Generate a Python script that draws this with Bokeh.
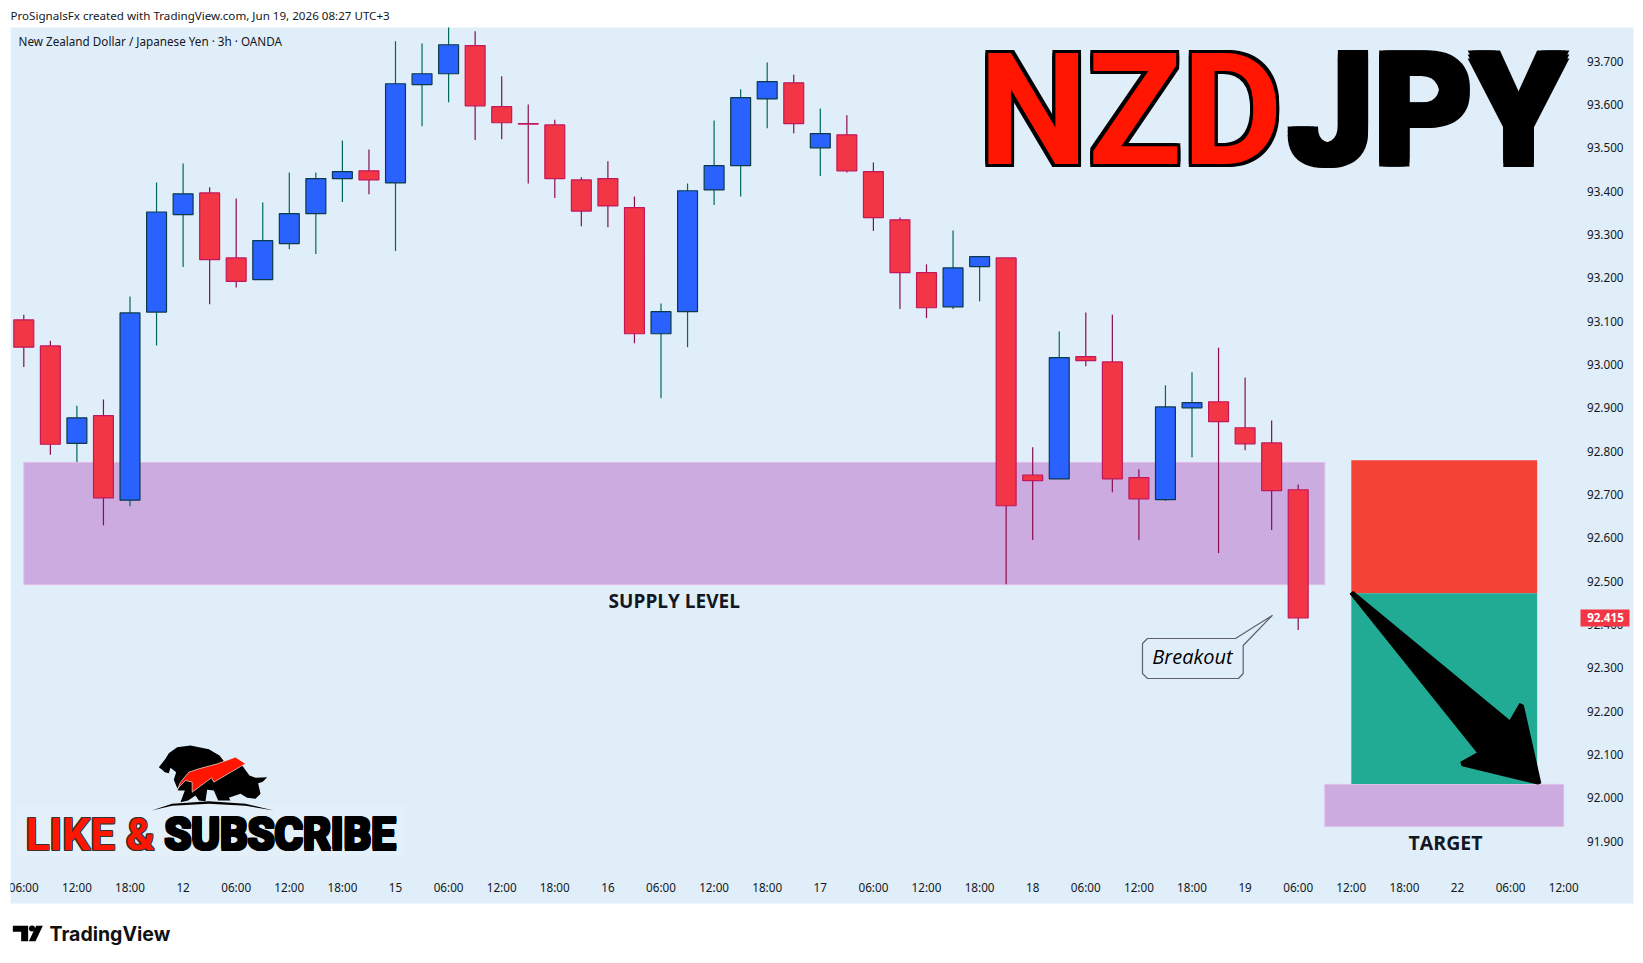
from bokeh.plotting import figure
from bokeh.models import FixedTicker, NumeralTickFormatter
from bokeh.core.properties import value
from bokeh.embed import file_html
from bokeh.resources import INLINE
import numpy as np

# OHLC of the 3h candles
opens = [93.103, 93.043, 92.818, 92.882, 92.687, 93.121, 93.346, 93.396, 93.246, 93.196,
         93.279, 93.348, 93.429, 93.447, 93.419, 93.646, 93.671, 93.736, 93.595, 93.556,
         93.553, 93.426, 93.429, 93.362, 93.071, 93.122, 93.403, 93.459, 93.613, 93.650,
         93.500, 93.530, 93.445, 93.334, 93.212, 93.133, 93.226, 93.246, 92.745, 92.736,
         93.018, 93.006, 92.739, 92.688, 92.900, 92.914, 92.854, 92.819, 92.711]
highs = [93.115, 93.055, 92.905, 92.919, 93.157, 93.420, 93.464, 93.409, 93.383, 93.374,
         93.443, 93.443, 93.517, 93.496, 93.746, 93.741, 93.778, 93.769, 93.665, 93.600,
         93.565, 93.432, 93.469, 93.388, 93.141, 93.418, 93.563, 93.635, 93.697, 93.669,
         93.591, 93.575, 93.466, 93.339, 93.231, 93.309, 93.249, 93.246, 92.809, 93.076,
         93.120, 93.115, 92.758, 92.952, 92.982, 93.039, 92.970, 92.871, 92.723]
lows = [92.994, 92.792, 92.775, 92.629, 92.673, 93.044, 93.225, 93.139, 93.178, 93.196,
        93.266, 93.255, 93.375, 93.393, 93.262, 93.550, 93.605, 93.518, 93.520, 93.418,
        93.384, 93.319, 93.317, 93.049, 92.922, 93.040, 93.368, 93.388, 93.545, 93.534,
        93.435, 93.443, 93.308, 93.128, 93.107, 93.128, 93.146, 92.493, 92.595, 92.736,
        92.996, 92.705, 92.595, 92.685, 92.786, 92.565, 92.802, 92.618, 92.387]
closes = [93.040, 92.816, 92.877, 92.692, 93.119, 93.352, 93.394, 93.242, 93.192, 93.286,
          93.348, 93.429, 93.445, 93.426, 93.648, 93.671, 93.738, 93.597, 93.558, 93.555,
          93.429, 93.354, 93.366, 93.071, 93.122, 93.401, 93.459, 93.616, 93.653, 93.556,
          93.533, 93.447, 93.339, 93.212, 93.131, 93.223, 93.249, 92.674, 92.732, 93.016,
          93.009, 92.736, 92.690, 92.902, 92.912, 92.868, 92.817, 92.709, 92.415]

tick_labels = ["06:00", "12:00", "18:00", "12", "06:00", "12:00", "18:00", "15",
               "06:00", "12:00", "18:00", "16", "06:00", "12:00", "18:00", "17",
               "06:00", "12:00", "18:00", "18", "06:00", "12:00", "18:00", "19",
               "06:00", "12:00", "18:00", "22", "06:00", "12:00"]
price_ticks = [91.9, 92.0, 92.1, 92.2, 92.3, 92.4, 92.5, 92.6, 92.7, 92.8, 92.9,
               93.0, 93.1, 93.2, 93.3, 93.4, 93.5, 93.6, 93.7]

# zones drawn on the chart: bar from, bar to, price top, price bottom
supply_zone = (0, 49, 92.774, 92.492)
target_zone = (49, 58, 92.031, 91.934)
stop_zone = (50, 57, 92.779, 92.472)
profit_zone = (50, 57, 92.472, 92.032)
last_price = 92.415

PANEL = "#E0EEF9"
TEXT = "#131722"


# page pixels -> chart units, only for the decorations (logos, callout, arrow)
def bx(px):
    return (np.asarray(px, dtype=float) - 23.3) / 26.55


def py(px):
    return 93.7 - (np.asarray(px, dtype=float) - 60.7) / 433.3


p = figure(width=1636, height=955, output_backend="svg", toolbar_location=None,
           x_range=(float(bx(0)), float(bx(1636))), y_range=(float(py(955)), float(py(0))),
           y_axis_location="right", min_border=0, background_fill_color="white",
           border_fill_color="white", outline_line_color=None)
p.grid.visible = False

# chart panel
p.quad(left=[bx(10)], right=[bx(1633)], top=[py(27)], bottom=[py(903)], fill_color=PANEL, line_color=None)

# axes sit inside the panel
p.yaxis.fixed_location = float(bx(1574.5))
p.yaxis.ticker = FixedTicker(ticks=price_ticks)
p.yaxis.formatter = NumeralTickFormatter(format="0.000")
p.xaxis.fixed_location = float(py(870.6))
p.xaxis.ticker = FixedTicker(ticks=list(range(0, 60, 2)))
p.xaxis.major_label_overrides = {i * 2: t for i, t in enumerate(tick_labels)}
for ax in (p.xaxis, p.yaxis):
    ax.axis_line_color = None
    ax.major_tick_line_color = None
    ax.minor_tick_line_color = None
    ax.major_label_text_font = "Noto Sans"
    ax.major_label_text_font_size = "11.7px"
    ax.major_label_text_color = TEXT
p.xaxis.major_label_standoff = 2
p.yaxis.major_label_standoff = 6

# zones under the candles
for z in (supply_zone, target_zone):
    p.quad(left=[z[0]], right=[z[1]], top=[z[2]], bottom=[z[3]], fill_color="#CCABE0",
           line_color="#E1BEE7", line_width=1)

# candles
o = np.array(opens)
c = np.array(closes)
h = np.array(highs)
l = np.array(lows)
idx = np.arange(len(o))
up = c >= o
p.segment(idx[up], h[up], idx[up], l[up], line_color="#00695C", line_width=1.2)
p.segment(idx[~up], h[~up], idx[~up], l[~up], line_color="#880E4F", line_width=1.2)
p.vbar(idx[up], 0.75, c[up], o[up], fill_color="#2962FF", line_color="#0C3A4A", line_width=1.2)
p.vbar(idx[~up], 0.75, o[~up], c[~up], fill_color="#F23645", line_color="#C2185B", line_width=1.2)

# position tool
p.quad(left=[stop_zone[0]], right=[stop_zone[1]], top=[stop_zone[2]], bottom=[stop_zone[3]],
       fill_color="#F44336", line_color=None)
p.quad(left=[profit_zone[0]], right=[profit_zone[1]], top=[profit_zone[2]], bottom=[profit_zone[3]],
       fill_color="#22AB94", line_color=None)

# big arrow
ax_px = np.array([300, 308, 778, 808, 818, 870, 862, 635, 632, 682]) / 3 + 1250
ay_px = np.array([520, 514, 902, 850, 855, 1087, 1090, 1035, 1025, 997]) / 3 + 420
p.patch(bx(ax_px), py(ay_px), fill_color="black", line_color="black", line_width=1.5, line_join="round")

# Breakout callout
cx = [1147, 1235, 1271.7, 1242.7, 1242.7, 1238, 1147, 1142, 1142]
cy = [638, 638, 615, 645, 673, 678, 678, 673, 643]
p.patch(bx(cx), py(cy), fill_color=PANEL, line_color="#5D606B", line_width=1.2, line_join="round")
p.text(bx([1192]), py([656]), text=["Breakout"], text_font=value("Open Sans"), text_font_style="italic",
       text_font_size="20px", text_color="black", text_align="center", text_baseline="middle")

# labels on the chart
p.text([24.5], [92.455], text=["SUPPLY LEVEL"], text_font=value("Open Sans"), text_font_size="19px",
       text_font_style="bold", text_color=TEXT, text_align="center", text_baseline="middle")
p.text([53.55], [91.897], text=["TARGET"], text_font=value("Open Sans"), text_font_size="19.5px",
       text_font_style="bold", text_color=TEXT, text_align="center", text_baseline="middle")
p.text(bx([18]), py([40]), text=["New Zealand Dollar / Japanese Yen · 3h · OANDA"], text_font=value("Noto Sans"),
       text_font_size="11.7px", text_color=TEXT, text_baseline="middle")


# text with a thick edge: copies pushed around the real one
def edged(px, base, txt, size, fill, edge, w, font="Roboto"):
    for dx, dy in [(-w, -w), (w, -w), (-w, w), (w, w), (-w, 0), (w, 0), (0, -w), (0, w)]:
        p.text(bx([px]), py([base]), text=[txt], x_offset=dx, y_offset=dy, text_font=value(font),
               text_font_style="bold", text_font_size=size, text_color=edge, text_baseline="alphabetic")
    p.text(bx([px]), py([base]), text=[txt], text_font=value(font), text_font_style="bold",
           text_font_size=size, text_color=fill, text_baseline="alphabetic")


edged(978, 110, "NZD", "155px", "#FF1500", "black", 3)
edged(1288, 110, "JPY", "152px", "black", "black", 4)

# LIKE & SUBSCRIBE badge
p.quad(left=[bx(15)], right=[bx(405)], top=[py(805)], bottom=[py(856)], fill_color="white",
       fill_alpha=0.14, line_color=None)
edged(25, 834, "LIKE &", "44px", "#FF1500", "#333333", 1)
edged(164, 834, "SUBSCRIBE", "43.5px", "black", "black", 1.5)

bull_x = np.array([40, 60, 70, 95, 135, 190, 222, 240, 290, 312, 330, 365, 352, 338, 345, 330, 305, 285, 250, 255, 218, 205, 185, 180, 160, 150, 128, 105, 118, 98, 85, 92, 75, 70, 58, 50]) / 3 + 145
bull_y = np.array([80, 55, 38, 20, 15, 26, 45, 68, 75, 105, 112, 110, 124, 128, 160, 175, 172, 160, 172, 180, 180, 150, 148, 182, 180, 165, 180, 185, 150, 150, 118, 95, 82, 98, 95, 88]) / 3 + 740
p.patch(bx(bull_x), py(bull_y), fill_color="black", line_color=None)
bolt_x = np.array([90, 105, 130, 160, 215, 270, 300, 285, 205, 198, 140, 140, 120, 100]) / 3 + 145
bolt_y = np.array([160, 125, 95, 85, 70, 50, 70, 78, 125, 112, 155, 125, 120, 140]) / 3 + 740
p.patch(bx(bolt_x), py(bolt_y), fill_color="#FF1500", line_color="#E8E8E8", line_width=0.7)
arc_x = np.array([18, 80, 190, 300, 385, 300, 190, 80]) / 3 + 145
arc_y = np.array([210, 190, 182, 190, 210, 196, 190, 196]) / 3 + 740
p.patch(bx(arc_x), py(arc_y), fill_color="black", line_color=None)

# last price tag covers the axis label under it
tag = p.quad(left=[bx(1580)], right=[bx(1629)], top=[py(609)], bottom=[py(626)], fill_color="#F23645", line_color=None)
tag.level = "annotation"
tag_txt = p.text(bx([1605]), [last_price], text=["92.415"], text_font=value("Noto Sans"), text_font_size="11.7px",
                 text_font_style="bold", text_color="white", text_align="center", text_baseline="middle")
tag_txt.level = "annotation"

# white margin left of the panel, cuts the first time label
edge = p.quad(left=[bx(0)], right=[bx(10)], top=[py(27)], bottom=[py(903)], fill_color="white", line_color=None)
edge.level = "annotation"

# header and footer
p.text(bx([10]), py([15]), text=["ProSignalsFx created with TradingView.com, Jun 19, 2026 08:27 UTC+3"],
       text_font=value("Noto Sans"), text_font_size="11.6px", text_color=TEXT, text_baseline="middle")
tv_x = np.array([37, 83, 83, 62, 62, 37]) / 3
tv_y = np.array([76, 76, 122, 122, 94, 94]) / 3 + 900
p.patch(bx(tv_x), py(tv_y), fill_color="black", line_color=None)
p.scatter(bx([31.5]), py([928]), size=6, marker="circle", fill_color="black", line_color=None)
sl_x = np.array([85, 107, 127, 105]) / 3
sl_y = np.array([122, 76, 76, 122]) / 3 + 900
p.patch(bx(sl_x), py(sl_y), fill_color="black", line_color=None)
p.text(bx([49]), py([933]), text=["TradingView"], text_font=value("Inter"), text_font_style="bold",
       text_font_size="19.5px", text_color="#111111", text_baseline="middle")

open("out.html", "w").write(file_html(p, INLINE))
